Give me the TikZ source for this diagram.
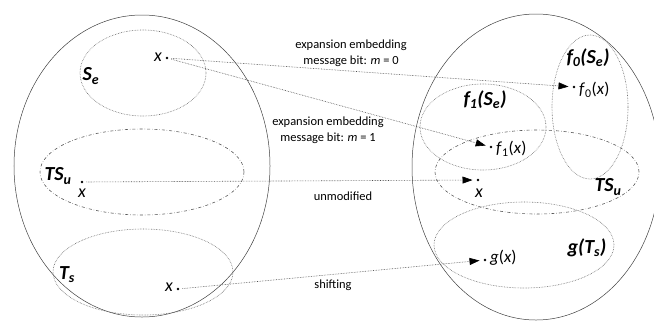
\documentclass[tikz,border=0pt]{standalone}
\usepackage{fontspec}
\setmainfont{Carlito}
\usepackage{tikz}
\usetikzlibrary{arrows.meta, shapes.geometric}

\newcommand{\lo}[1]{\textsubscript{#1}}

\begin{document}
\begin{tikzpicture}[
    x=1bp, y=-1bp,
    every node/.style={inner sep=1pt},
    universe/.style={draw, ellipse, gray!50!black, line width=0.5bp, inner sep=0pt},
    subset/.style={draw, ellipse, densely dotted, gray!80!black, line width=0.6bp, inner sep=0pt},
    unmod/.style={draw, ellipse, dash dot, gray!70!black, line width=0.6bp, inner sep=0pt},
    pt/.style={circle, fill=black, inner sep=0pt, minimum size=2.6bp},
    setlbl/.style={font=\fontsize{20}{22}\selectfont\bfseries\itshape},
    ptlbl/.style={font=\fontsize{17}{19}\selectfont},
    ptx/.style={font=\fontsize{18}{19}\selectfont\itshape},
    edgelbl/.style={font=\fontsize{12.5}{16.5}\selectfont, align=center},
    flow/.style={-{Triangle[length=10bp, width=7bp, color=black]}, densely dotted,
                 gray!60!black, line width=0.6bp, shorten >=4bp, shorten <=3bp},
]
\useasboundingbox (0,0) rectangle (654,327);

% --------- Cover (left) ----------
\node[universe, minimum width=256bp, minimum height=302bp] (cover) at (142,166) {};
\node[subset,   minimum width=126bp, minimum height=86bp]  (se)    at (143,73)  {};
\node[unmod,    minimum width=204bp, minimum height=86bp]  (tsu)   at (142,172) {};
\node[subset,   minimum width=180bp, minimum height=86bp]  (ts)    at (143,272) {};

\node[setlbl] (lse)  at (91,76)  {S\lo{e}};
\node[setlbl] (ltsu) at (58,176) {TS\lo{u}};
\node[setlbl] (lts)  at (67,275) {T\lo{s}};

\node[pt] (xse) at (167,58)  {};
\node[pt] (xtu) at (82,182)  {};
\node[pt] (xts) at (178,289) {};
\node[ptx] (lxse) at (158,57)  {x};
\node[ptx] (lxtu) at (82,193)  {x};
\node[ptx] (lxts) at (169,287) {x};

% --------- Stego (right) ----------
\node[universe, minimum width=248bp, minimum height=306bp] (stego) at (536,167) {};
\node[subset,   minimum width=126bp, minimum height=86bp]  (fse1)  at (483,127) {};
\node[subset,   minimum width=76bp,  minimum height=144bp] (fse0)  at (590,107) {};
\node[unmod,    minimum width=204bp, minimum height=84bp]  (tsu2)  at (537,172) {};
\node[subset,   minimum width=180bp, minimum height=86bp]  (gts)   at (524,245) {};

\node[setlbl] (lfse0) at (588,58)  {f\lo{0}(S\lo{e})};
\node[setlbl] (lfse1) at (485,100) {f\lo{1}(S\lo{e})};
\node[setlbl] (ltsu2) at (608,187) {TS\lo{u}};
\node[setlbl] (lgts)  at (587,248) {g(T\lo{s})};

\node[pt] (fx0) at (574,87)  {};
\node[pt] (fx1) at (491,147) {};
\node[pt] (xu2) at (478,180) {};
\node[pt] (gx)  at (485,260) {};
\node[ptlbl, anchor=west] (lfx0) at (578,90)  {\textit{f}\lo{0}(\textit{x})};
\node[ptlbl, anchor=west] (lfx1) at (495,149) {\textit{f}\lo{1}(\textit{x})};
\node[ptx] (lxu2) at (479,193) {x};
\node[ptlbl, anchor=west] (lgx)  at (489,258) {\textit{g}(\textit{x})};

% --------- Mappings ----------
\draw[flow] (xse) -- (fx0);
\draw[flow] (xse) -- (fx1);
\draw[flow] (xtu) -- (xu2);
\draw[flow] (xts) -- (gx);

\node[edgelbl] (m0)   at (351,53)  {expansion embedding\\message bit: \textit{m} = 0};
\node[edgelbl] (m1)   at (328,130) {expansion embedding\\message bit: \textit{m} = 1};
\node[edgelbl] (umod) at (343,196) {unmodified};
\node[edgelbl] (shft) at (333,285) {shifting};

\end{tikzpicture}
\end{document}
